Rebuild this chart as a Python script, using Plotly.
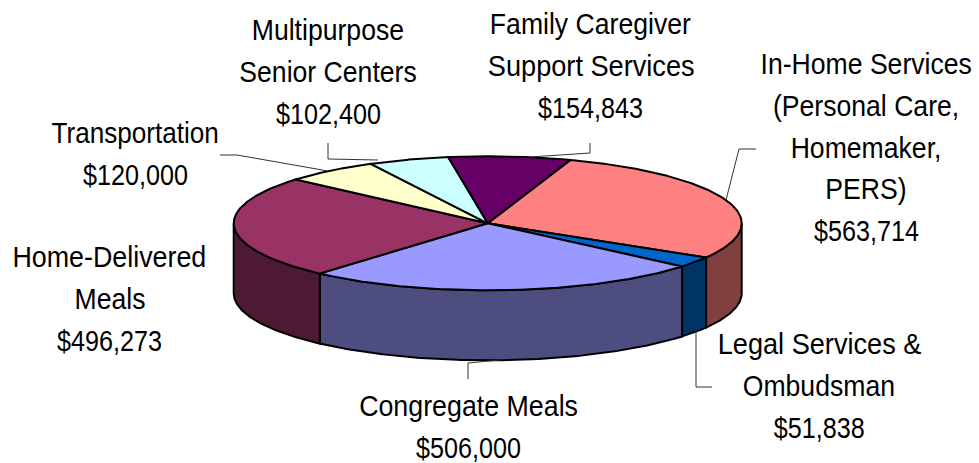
import json
import numpy as np
import plotly.graph_objects as go

# ---- data ----
categories = ["In-Home Services (Personal Care, Homemaker, PERS)", "Legal Services & Ombudsman",
              "Congregate Meals", "Home-Delivered Meals", "Transportation",
              "Multipurpose Senior Centers", "Family Caregiver Support Services"]
values = [563714, 51838, 506000, 496273, 120000, 102400, 154843]
top_colors = ["#FF8080", "#0066CC", "#9999FF", "#993366", "#FFFFCC", "#CCFFFF", "#660066"]
wall_colors = ["#804040", "#003366", "#4D4D80", "#4D1933", "#808066", "#668080", "#330033"]

# label text lines, and where each label's centre sits
label_lines = [["In-Home Services", "(Personal Care,", "Homemaker,", "PERS)", "$563,714"],
               ["Legal Services &", "Ombudsman", "$51,838"],
               ["Congregate Meals", "$506,000"],
               ["Home-Delivered", "Meals", "$496,273"],
               ["Transportation", "$120,000"],
               ["Multipurpose", "Senior Centers", "$102,400"],
               ["Family Caregiver", "Support Services", "$154,843"]]
label_x = [866, 819, 468, 109.5, 135, 328, 590.5]
label_y = [63.5, 343.5, 405.5, 256.5, 132.5, 29.5, 23.5]
LINE_GAP = 41.8
FONT = "Liberation Sans"
FONT_SIZE = 30
TEXT_SQUEEZE = 0.887
MONEY_SQUEEZE = 0.84
LINE_SQUEEZE = {"Legal Services &": 0.905, "Support Services": 0.905,
                "Transportation": 0.87, "Congregate Meals": 0.893,
                "Home-Delivered": 0.895}

# leader lines (pixel space of the chart)
leaders = [[(756, 149), (739, 149), (726, 200)],
           [(696, 330), (696, 387), (712, 387)],
           [(468, 379), (468, 363), (500, 360)],
           [(220, 155), (237, 155), (328, 171)],
           [(328, 143), (328, 159), (378, 160)],
           [(590, 143), (590, 153), (530, 157)]]

# pie geometry
CX, CY, RX, RY, DEPTH = 487.7, 223.3, 254, 67, 70
START_DEG = 19.0

W, H = 979, 463


def rim(deg):
    t = np.radians(deg)
    return CX + RX * np.sin(t), CY - RY * np.cos(t)


fractions = np.array(values) / sum(values)
edges = START_DEG + np.concatenate([[0], np.cumsum(fractions)]) * 360

fig = go.Figure()

# side walls: only the front half (90..270 deg) of the rim can be seen
for i in range(len(values)):
    a, b = max(edges[i], 90), min(edges[i + 1], 270)
    if b <= a:
        continue
    ang = np.linspace(a, b, 120)
    x, y = rim(ang)
    fig.add_trace(go.Scatter(
        x=np.concatenate([x, x[::-1], x[:1]]),
        y=np.concatenate([y, y[::-1] + DEPTH, y[:1]]),
        mode="lines", fill="toself", fillcolor=wall_colors[i],
        line=dict(color="black", width=2), hoverinfo="skip", showlegend=False))

# top faces
for i in range(len(values)):
    ang = np.linspace(edges[i], edges[i + 1], 160)
    x, y = rim(ang)
    fig.add_trace(go.Scatter(
        x=np.concatenate([[CX], x, [CX]]),
        y=np.concatenate([[CY], y, [CY]]),
        mode="lines", fill="toself", fillcolor=top_colors[i],
        line=dict(color="black", width=2), name=categories[i],
        text=f"{categories[i]}: ${values[i]:,}", hoverinfo="text", showlegend=False))

# leader lines
for pts in leaders:
    fig.add_trace(go.Scatter(x=[p[0] for p in pts], y=[p[1] for p in pts], mode="lines",
                             line=dict(color="#333333", width=1), hoverinfo="skip", showlegend=False))

# labels
for lines, lx, ly in zip(label_lines, label_x, label_y):
    for k, txt in enumerate(lines):
        fig.add_annotation(x=lx, y=ly + k * LINE_GAP, text=txt, showarrow=False,
                           xanchor="center", yanchor="middle",
                           font=dict(family=FONT, size=FONT_SIZE, color="black"))

fig.update_layout(
    width=W, height=H, margin=dict(l=0, r=0, t=0, b=0),
    paper_bgcolor="white", plot_bgcolor="white", showlegend=False,
    xaxis=dict(range=[0, W], visible=False, fixedrange=True),
    yaxis=dict(range=[H, 0], visible=False, fixedrange=True),
)

# the page's default body margin would push the chart 8px off; labels are narrowed
# horizontally about their centres to match the reference's condensed lettering
post = """
document.body.style.margin = '0';
var over = %s;
document.querySelectorAll('.annotation-text').forEach(function (t) {
  var s = t.textContent;
  var k = (s in over) ? over[s] : (s.charAt(0) === '$' ? %s : %s);
  var b = t.getBBox();
  var c = b.x + b.width / 2;
  t.setAttribute('transform', 'translate(' + c + ' 0) scale(' + k + ' 1) translate(' + (-c) + ' 0)');
});
""" % (json.dumps(LINE_SQUEEZE), MONEY_SQUEEZE, TEXT_SQUEEZE)
fig.write_html("out.html", config={"displayModeBar": False}, post_script=post)
